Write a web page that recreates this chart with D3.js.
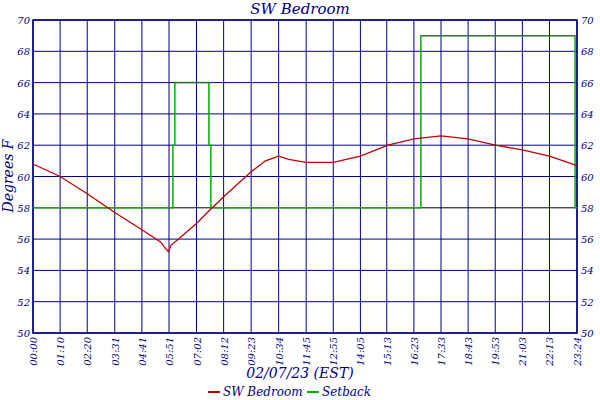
<!DOCTYPE html>
<html><head><meta charset="utf-8">
<script src="https://cdn.jsdelivr.net/npm/d3@7"></script>
<style>body{margin:0;background:#fff}text{font-family:"DejaVu Serif",serif;font-style:italic;fill:#000080}</style>
</head><body><svg id="c" width="600" height="400"></svg>
<script>
// minutes since midnight for tick labels
var tickMinutes = [0,70,140,211,281,351,422,492,563,634,705,775,845,913,983,1053,1123,1193,1263,1333,1404];
var tickLabels = ["00:00","01:10","02:20","03:31","04:41","05:51","07:02","08:12","09:23","10:34","11:45","12:55","14:05","15:13","16:23","17:33","18:43","19:53","21:03","22:13","23:24"];
var yTicks = [50,52,54,56,58,60,62,64,66,68,70];

var tempMin = [0,70,140,211,281,330,345,350,356,380,422,450,492,563,600,634,660,705,775,845,916,983,1053,1123,1193,1263,1333,1404];
var tempVal = [60.8,60.0,58.9,57.7,56.6,55.8,55.3,55.2,55.6,56.1,57.0,57.7,58.7,60.3,61.0,61.3,61.1,60.9,60.9,61.3,62.0,62.4,62.6,62.4,62.0,61.7,61.3,60.7];

var setMin = [0,361,366,454,459,1001,1399,1404];
var setVal = [58,62,66,62,58,69,58,58];

var svg = d3.select("#c");
var L = 33, R = 577, T = 20, B = 333;
var x = d3.scaleLinear().domain([0,1404]).range([L,R]);
var y = d3.scaleLinear().domain([50,70]).range([B,T]);
var navy = "#000080";

var g = svg.append("g");
g.selectAll(".vg").data(tickMinutes).enter().append("line")
  .attr("x1",d=>x(d)).attr("x2",d=>x(d)).attr("y1",T).attr("y2",B)
  .attr("stroke",navy).attr("stroke-width",1);
g.selectAll(".hg").data(yTicks).enter().append("line")
  .attr("x1",L).attr("x2",R).attr("y1",d=>y(d)).attr("y2",d=>y(d))
  .attr("stroke",d=>d==58?"#000":navy).attr("stroke-width",1);
g.append("rect").attr("x",L).attr("y",T).attr("width",R-L).attr("height",B-T)
  .attr("fill","none").attr("stroke",navy).attr("stroke-width",1.5);

// setback step line
var sl = d3.line().x((d,i)=>x(setMin[i])).y(d=>y(d)).curve(d3.curveStepAfter);
svg.append("path").attr("d",sl(setVal)).attr("fill","none").attr("stroke","#00b000").attr("stroke-width",1.5);
svg.append("path").attr("d",d3.line()([[x(366),y(66)],[x(454),y(66)]])).attr("stroke","#555").attr("stroke-width",1);
svg.append("path").attr("d",d3.line()([[x(1001),y(69)],[x(1399),y(69)]])).attr("stroke","#555").attr("stroke-width",1);

var tl = d3.line().x((d,i)=>x(tempMin[i])).y(d=>y(d));
svg.append("path").attr("d",tl(tempVal)).attr("fill","none").attr("stroke","#c00000").attr("stroke-width",1.3);

svg.selectAll(".yl").data(yTicks).enter().append("text")
  .attr("x",L-3).attr("y",d=>y(d)+4).attr("text-anchor","end").attr("font-size",10).text(d=>d);
svg.selectAll(".yr").data(yTicks).enter().append("text")
  .attr("x",R+4).attr("y",d=>y(d)+4).attr("font-size",10).text(d=>d);
svg.selectAll(".xl").data(tickMinutes).enter().append("text")
  .attr("transform",(d)=>"translate("+(x(d)+4)+","+(B+4)+") rotate(-90)")
  .attr("text-anchor","end").attr("font-size",10).text((d,i)=>tickLabels[i]);

svg.append("text").attr("x",300).attr("y",14).attr("text-anchor","middle").attr("font-size",15).text("SW Bedroom");
svg.append("text").attr("x",300).attr("y",378).attr("text-anchor","middle").attr("font-size",14).text("02/07/23 (EST)");
svg.append("text").attr("transform","translate(13,176) rotate(-90)").attr("text-anchor","middle").attr("font-size",14).text("Degrees F");

var leg = svg.append("g");
leg.append("line").attr("x1",208).attr("x2",220).attr("y1",392).attr("y2",392).attr("stroke","#c00000").attr("stroke-width",2);
leg.append("text").attr("x",223).attr("y",396).attr("font-size",12).text("SW Bedroom");
leg.append("line").attr("x1",307).attr("x2",319).attr("y1",392).attr("y2",392).attr("stroke","#00b000").attr("stroke-width",2);
leg.append("text").attr("x",322).attr("y",396).attr("font-size",12).text("Setback");
</script></body></html>
